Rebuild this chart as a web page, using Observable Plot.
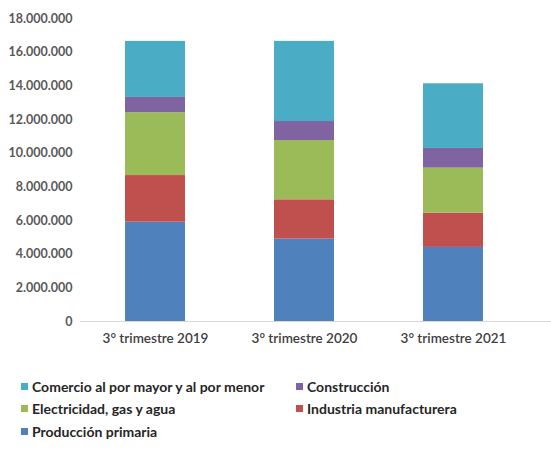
<!DOCTYPE html>
<html>
<head>
<meta charset="utf-8">
<script src="https://cdn.jsdelivr.net/npm/d3@7"></script>
<script src="https://cdn.jsdelivr.net/npm/@observablehq/plot@0.6"></script>
<style>
  html, body { margin: 0; padding: 0; background: #fff; }
  body { width: 551px; height: 455px; overflow: hidden; font-family: Lato, "Open Sans", sans-serif; }
  #legend { display: grid; grid-template-columns: 275px 240px; row-gap: 6.5px; margin: 23px 0 0 21px; }
  .item { display: flex; align-items: center; font-size: 14px; font-weight: 700; color: #262626; height: 16px; }
  .sw { width: 7px; height: 7px; margin-right: 4px; flex: none; }
</style>
</head>
<body>
<div id="chart"></div>
<div id="legend"></div>
<script>
const categories = ["3° trimestre 2019", "3° trimestre 2020", "3° trimestre 2021"];
const seriesNames = ["Producción primaria", "Industria manufacturera", "Electricidad, gas y agua", "Construcción", "Comercio al por mayor y al por menor"];
const produccionPrimaria = [5900000, 4890000, 4400000];
const industriaManufacturera = [2770000, 2340000, 2040000];
const electricidadGasAgua = [3730000, 3520000, 2670000];
const construccion = [910000, 1130000, 1170000];
const comercio = [3330000, 4760000, 3840000];
const seriesColors = ["#4F81BD", "#C0504D", "#9BBB59", "#8064A2", "#4BACC6"];
const yTicks = [0, 2000000, 4000000, 6000000, 8000000, 10000000, 12000000, 14000000, 16000000, 18000000];
const legendOrder = ["Comercio al por mayor y al por menor", "Construcción", "Electricidad, gas y agua", "Industria manufacturera", "Producción primaria"];

const seriesValues = [produccionPrimaria, industriaManufacturera, electricidadGasAgua, construccion, comercio];
const data = [];
seriesNames.forEach((s, i) => categories.forEach((c, j) => data.push({category: c, series: s, value: seriesValues[i][j]})));

const fmt = d3.formatLocale({decimal: ",", thousands: ".", grouping: [3], currency: ["", ""]}).format(",");

const chart = Plot.plot({
  width: 551,
  height: 355,
  marginTop: 18,
  marginBottom: 34,
  marginLeft: 80,
  marginRight: 0,
  style: {fontFamily: "Lato, 'Open Sans', sans-serif", background: "#fff"},
  x: {domain: categories, paddingInner: 0.6, paddingOuter: 0.3725, align: 0.4, label: null},
  y: {domain: [0, 18000000], label: null},
  color: {domain: seriesNames, range: seriesColors},
  marks: [
    Plot.barY(data, {x: "category", y: "value", fill: "series", order: seriesNames}),
    Plot.ruleY([0], {stroke: "#d9d9d9", strokeWidth: 1}),
    Plot.axisY(yTicks, {tickSize: 0, tickPadding: 8, tickFormat: fmt, fontSize: 12.5, fontWeight: 700, fill: "#595959", label: null}),
    Plot.axisX({tickSize: 0, tickPadding: 12, fontSize: 13.5, fontWeight: 600, fill: "#404040", label: null})
  ]
});
document.getElementById("chart").appendChild(chart);

const legend = document.getElementById("legend");
legendOrder.forEach(name => {
  const it = document.createElement("div");
  it.className = "item";
  const sw = document.createElement("span");
  sw.className = "sw";
  sw.style.background = seriesColors[seriesNames.indexOf(name)];
  it.appendChild(sw);
  it.appendChild(document.createTextNode(name));
  legend.appendChild(it);
});
</script>
</body>
</html>
